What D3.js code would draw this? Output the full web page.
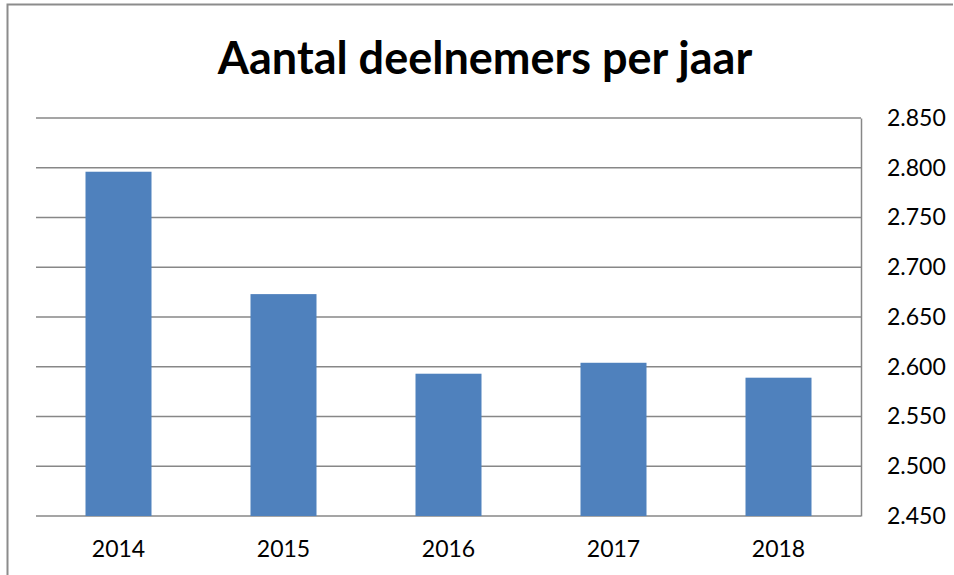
<!DOCTYPE html>
<html>
<head>
<meta charset="utf-8">
<script src="https://cdn.jsdelivr.net/npm/d3@7"></script>
<style>
  body { margin: 0; background: #fff; }
  svg text { font-family: Lato, "Open Sans", sans-serif; fill: #000; }
</style>
</head>
<body>
<div class="canvas"></div>
<script>
var years = ["2014", "2015", "2016", "2017", "2018"];
var deelnemers = [2796, 2673, 2593, 2604, 2589];
var yTicks = [2450, 2500, 2550, 2600, 2650, 2700, 2750, 2800, 2850];

var width = 954, height = 575;
var plotLeft = 36, plotRight = 861, plotTop = 118, plotBottom = 516;

var svg = d3.select(".canvas")
  .append("svg")
  .attr("width", width)
  .attr("height", height);

// outer frame (left + top only, image is cropped)
svg.append("path")
  .attr("d", "M7.5,575 L7.5,4.5 L953,4.5")
  .attr("fill", "none")
  .attr("stroke", "#8c8c8c")
  .attr("stroke-width", 2);

svg.append("text")
  .attr("x", 485)
  .attr("y", 74)
  .attr("text-anchor", "middle")
  .attr("font-size", 45)
  .attr("font-weight", "bold")
  .text("Aantal deelnemers per jaar");

var x = d3.scaleBand()
  .domain(years)
  .range([plotLeft, plotRight])
  .paddingInner(0.6)
  .paddingOuter(0.3);

var y = d3.scaleLinear()
  .domain([2450, 2850])
  .range([plotBottom, plotTop]);

// gridlines
svg.append("g")
  .selectAll("line")
  .data(yTicks)
  .enter().append("line")
  .attr("x1", plotLeft)
  .attr("x2", plotRight)
  .attr("y1", function(d){ return y(d); })
  .attr("y2", function(d){ return y(d); })
  .attr("stroke", "#878787")
  .attr("stroke-width", 1.5);

// bars
svg.append("g")
  .selectAll("rect")
  .data(deelnemers)
  .enter().append("rect")
  .attr("x", function(d, i){ return x(years[i]); })
  .attr("width", x.bandwidth())
  .attr("y", function(d){ return y(d); })
  .attr("height", function(d){ return y(2450) - y(d); })
  .attr("fill", "#4f81bd");

// right value axis
var yAxis = svg.append("g")
  .attr("transform", "translate(" + plotRight + ",0)")
  .call(d3.axisRight(y)
    .tickValues(yTicks)
    .tickSize(0)
    .tickPadding(26)
    .tickFormat(function(d){ return d3.format(",")(d).replace(",", "."); }));
yAxis.select(".domain").attr("stroke", "#878787").attr("stroke-width", 1.5);
yAxis.selectAll("text")
  .attr("font-size", 23)
  .attr("font-family", "Lato, sans-serif");

// category axis
var xAxis = svg.append("g")
  .attr("transform", "translate(0," + plotBottom + ")")
  .call(d3.axisBottom(x).tickSize(0).tickPadding(25));
xAxis.select(".domain").remove();
xAxis.selectAll("text")
  .attr("font-size", 23)
  .attr("font-family", "Lato, sans-serif");
</script>
</body>
</html>
